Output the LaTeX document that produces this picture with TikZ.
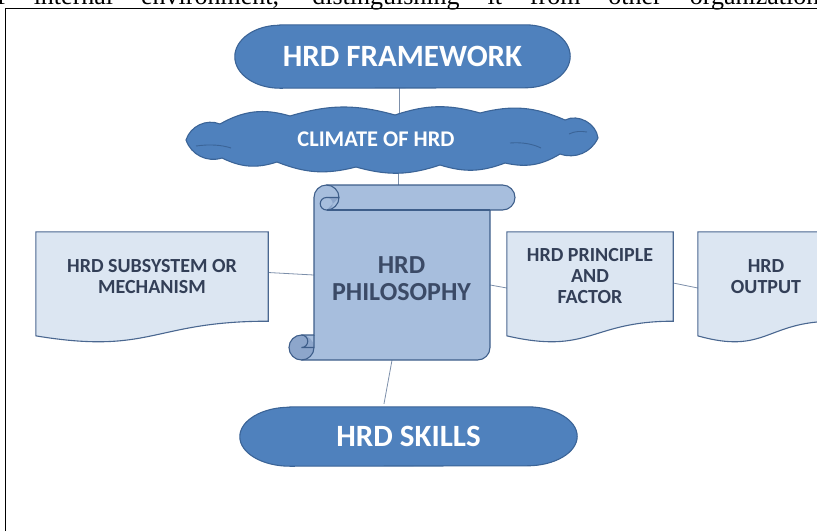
\documentclass[tikz,border=0pt]{standalone}
\usepackage{fontspec}
\setmainfont{Carlito}
\newfontfamily\toptextfont{Liberation Serif}
\pgfdeclarelayer{conn}
\pgfdeclarelayer{shp}
\pgfsetlayers{conn,shp,main}
\definecolor{pillblue}{HTML}{4F81BD}
\definecolor{pillborder}{HTML}{3B6497}
\definecolor{docfill}{HTML}{DCE6F2}
\definecolor{docborder}{HTML}{4A6790}
\definecolor{scrollfill}{HTML}{A7BEDD}
\definecolor{scrolldark}{HTML}{8DA6CB}
\definecolor{scrollborder}{HTML}{3E5E8A}
\definecolor{connline}{HTML}{7C8FAA}
\definecolor{doctext}{HTML}{333F57}
\definecolor{philtext}{HTML}{3B4A66}
\begin{document}
\begin{tikzpicture}[x=1pt,y=1pt,
  pilltext/.style={inner sep=0pt, font=\bfseries\fontsize{31}{33}\selectfont, text=white},
  pillshape/.style={fill=pillblue, draw=pillborder, line width=1.1pt},
  doctxt/.style={inner sep=0pt, align=center, font=\bfseries\fontsize{20}{21}\selectfont, text=doctext},
  docshape/.style={fill=docfill, draw=docborder, line width=1.1pt},
  scrollline/.style={draw=scrollborder, line width=1.1pt},
  connector/.style={draw=connline, line width=0.8pt},
  cloudedge/.style={fill=pillblue, draw=pillborder, line width=1.1pt},
]
\useasboundingbox (0,0) rectangle (817,-531);
\clip (0,0) rectangle (817,-531);

% cut-off line of text above the frame
\node[anchor=base west, inner sep=0pt, font=\toptextfont\fontsize{26}{28}\selectfont] (toptext) at (-3,-4.5)
  {\makebox[822pt][s]{f internal environment, distinguishing it from other organization}};

% frame
\draw[line width=0.9pt] (5.5,-531) -- (5.5,-8) -- (817,-8);

% nodes
\node[pilltext, minimum width=335pt, minimum height=63pt] (fw) at (402.5,-56.5) {HRD FRAMEWORK};
\node[inner sep=0pt, font=\bfseries\fontsize{22.4}{24}\selectfont, text=white] (cloud) at (376,-139) {CLIMATE OF HRD};
\node[inner sep=0pt, minimum width=176pt, minimum height=175pt] (phil) at (402,-272.5) {};
\node[inner sep=0pt, align=center, font=\bfseries\fontsize{26}{27}\selectfont, text=philtext] (philtxt) at (401.5,-278.5) {HRD\\PHILOSOPHY};
\node[doctxt, minimum width=232pt, minimum height=89pt] (sub) at (152,-276.5) {HRD SUBSYSTEM OR\\MECHANISM};
\node[doctxt, minimum width=166pt, minimum height=89pt] (prin) at (590,-276.5) {HRD PRINCIPLE\\AND\\FACTOR};
\node[doctxt, minimum width=136pt, minimum height=89pt] (out) at (766,-276.5) {HRD\\OUTPUT};
\node[pilltext, minimum width=337pt, minimum height=59pt] (skills) at (408.5,-436.5) {HRD SKILLS};

\begin{pgfonlayer}{shp}
  % pills
  \path[pillshape] ([xshift=45pt]fw.north west) -- ([xshift=-45pt]fw.north east)
    arc[start angle=90, end angle=-90, x radius=45pt, y radius=31.5pt]
    -- ([xshift=45pt]fw.south west)
    arc[start angle=270, end angle=90, x radius=45pt, y radius=31.5pt] -- cycle;
  \path[pillshape] ([xshift=50pt]skills.north west) -- ([xshift=-50pt]skills.north east)
    arc[start angle=90, end angle=-90, x radius=50pt, y radius=29.5pt]
    -- ([xshift=50pt]skills.south west)
    arc[start angle=270, end angle=90, x radius=50pt, y radius=29.5pt] -- cycle;
  % cloud
  \path[cloudedge] (186,-140) to[bend left=47] (220,-124) to[bend left=23] (290,-116)
    to[bend left=16] (395,-115) to[bend left=17] (480,-113) to[bend left=19] (565,-120)
    to[bend left=55] (598,-138) to[bend left=42] (560,-154) to[bend left=22] (505,-163)
    to[bend left=19] (440,-165) to[bend left=17] (356,-167) to[bend left=18] (277,-162)
    to[bend left=22] (222,-158) to[bend left=44] (186,-140) -- cycle;
  \draw[pillborder, line width=0.9pt] (196,-146) .. controls (210,-144) and (222,-145) .. (231,-148);
  \draw[pillborder, line width=0.9pt] (510,-143) .. controls (522,-142) and (533,-144) .. (541,-148);
  \draw[pillborder, line width=0.9pt] (569,-134) .. controls (575,-131) and (581,-131) .. (587,-132);
  % documents
  \foreach \d in {sub,prin,out}{
    \path[docshape] (\d.north west) -- (\d.north east) -- (\d.south east)
      .. controls (\d.south) and ([yshift=-33.9pt]\d.south) .. ([yshift=-14.65pt]\d.south west) -- cycle;
  }
  % scroll
  \path[fill=scrollfill] (314,-335) -- (314,-197.5) arc[start angle=180, end angle=90, radius=12.5]
    -- (502.5,-185) arc[start angle=90, end angle=-90, radius=12.5] -- (490,-210) -- (490,-347.5)
    arc[start angle=0, end angle=-90, radius=12.5] -- (301.5,-360)
    arc[start angle=-90, end angle=-270, radius=12.5] -- cycle;
  \path[fill=scrolldark] (301.5,-347.5) circle[radius=12.5];
  \path[fill=scrolldark] (339,-197.5) -- (326.5,-197.5) arc[start angle=90, end angle=-90, radius=6.25] -- cycle;
  \path[scrollline] (314,-335) -- (314,-197.5) arc[start angle=180, end angle=90, radius=12.5]
    -- (502.5,-185) arc[start angle=90, end angle=-90, radius=12.5] -- (490,-210) -- (490,-347.5)
    arc[start angle=0, end angle=-90, radius=12.5] -- (301.5,-360)
    arc[start angle=-90, end angle=-270, radius=12.5] -- cycle;
  \path[scrollline] (301.5,-335) arc[start angle=90, end angle=-90, radius=6.25] -- (314,-347.5);
  \path[scrollline] (301.5,-360) arc[start angle=-90, end angle=0, radius=12.5] -- (314,-335);
  \path[scrollline] (326.5,-185) arc[start angle=90, end angle=-90, radius=12.5]
    arc[start angle=-90, end angle=-270, radius=6.25] -- (339,-197.5);
  \path[scrollline] (490,-210) -- (326.5,-210);
\end{pgfonlayer}

\begin{pgfonlayer}{conn}
  \path[connector] ([xshift=-3pt]fw.south) -- ([xshift=-3pt]fw.south |- cloud.center);
  \path[connector] ([xshift=-4pt]phil.north) -- ([xshift=-4pt]phil.north |- cloud.center);
  \path[connector] ([yshift=4pt]sub.east) -- ([yshift=-2.5pt]phil.west);
  \path[connector] ([yshift=-12.5pt]phil.east) -- ([yshift=-11.5pt]prin.west);
  \path[connector] ([yshift=-6.5pt]prin.east) -- ([yshift=-11.5pt]out.west);
  \path[connector] ([xshift=-10pt]phil.south) -- ([xshift=-24.5pt,yshift=3pt]skills.north);
\end{pgfonlayer}
\end{tikzpicture}
\end{document}
